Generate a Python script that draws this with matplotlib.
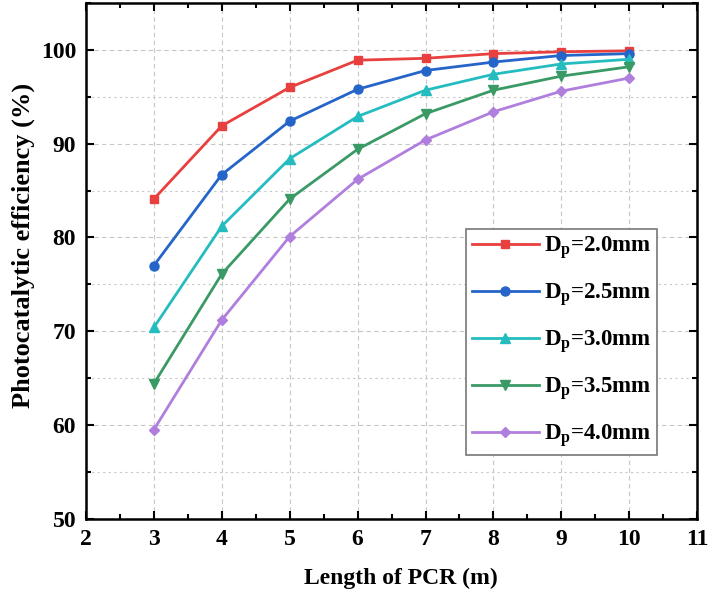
import numpy as np
import matplotlib
matplotlib.use("Agg")
import matplotlib.pyplot as plt
from matplotlib.ticker import MultipleLocator

# Data
length = [3, 4, 5, 6, 7, 8, 9, 10]
eff_20 = [84.1, 91.9, 96.0, 98.9, 99.1, 99.6, 99.8, 99.9]
eff_25 = [77.0, 86.7, 92.4, 95.8, 97.8, 98.7, 99.4, 99.6]
eff_30 = [70.4, 81.2, 88.4, 92.9, 95.7, 97.4, 98.5, 99.0]
eff_35 = [64.4, 76.1, 84.1, 89.4, 93.2, 95.7, 97.2, 98.2]
eff_40 = [59.5, 71.2, 80.1, 86.2, 90.4, 93.4, 95.6, 97.0]
labels = ["2.0", "2.5", "3.0", "3.5", "4.0"]

plt.rcParams["font.family"] = "Liberation Serif"
plt.rcParams["font.weight"] = "bold"
plt.rcParams["mathtext.fontset"] = "custom"
plt.rcParams["mathtext.rm"] = "Liberation Serif:bold"
plt.rcParams["mathtext.it"] = "Liberation Serif:bold"
plt.rcParams["mathtext.bf"] = "Liberation Serif:bold"

series = [eff_20, eff_25, eff_30, eff_35, eff_40]
colors = ["#E8403E", "#2565C9", "#25BCC0", "#3A9A66", "#B07EDC"]
markers = ["s", "o", "^", "v", "D"]
msizes = [6, 6.5, 6.5, 6.5, 5.5]

fig = plt.figure(figsize=(7.1, 5.97), dpi=100)
ax = fig.add_axes([0.121, 0.131, 0.861, 0.864])

for y, c, m, ms, lab in zip(series, colors, markers, msizes, labels):
    ax.plot(length, y, color=c, marker=m, markersize=ms, linewidth=2,
            label=r"D$_\mathrm{p}$=" + lab + "mm")

ax.set_xlim(2, 11)
ax.set_ylim(50, 105)
ax.xaxis.set_major_locator(MultipleLocator(1))
ax.xaxis.set_minor_locator(MultipleLocator(0.5))
ax.yaxis.set_major_locator(MultipleLocator(10))
ax.yaxis.set_minor_locator(MultipleLocator(5))
ax.set_xticks(range(2, 12))
ax.set_yticks(range(50, 101, 10))

ax.grid(which="major", axis="both", color="#c8c8c8", linestyle=(0, (4, 3)), linewidth=0.8)
ax.grid(which="minor", axis="y", color="#c8c8c8", linestyle=(0, (2, 3)), linewidth=0.8)
ax.set_axisbelow(True)

ax.tick_params(which="both", direction="in", top=True, right=True, width=1.5, labelsize=17)
ax.tick_params(which="major", length=6, pad=7)
ax.tick_params(which="minor", length=3.5)
for sp in ax.spines.values():
    sp.set_linewidth(1.8)

ax.set_xlabel("Length of PCR (m)", fontsize=17, fontweight="bold", labelpad=13)
ax.set_ylabel("Photocatalytic efficiency (%)", fontsize=19, fontweight="bold")
ax.xaxis.set_label_coords(0.515, -0.095)
ax.yaxis.set_label_coords(-0.083, 0.53)

leg = ax.legend(loc="lower right", bbox_to_anchor=(0.935, 0.124), borderaxespad=0,
                fontsize=16.5, handlelength=2.9, handletextpad=0.25, labelspacing=0.88,
                borderpad=0.25, fancybox=False, edgecolor="#777777", framealpha=1,
                markerscale=1.0)
leg.get_frame().set_linewidth(1.2)

fig.savefig("out.png", dpi=100)
